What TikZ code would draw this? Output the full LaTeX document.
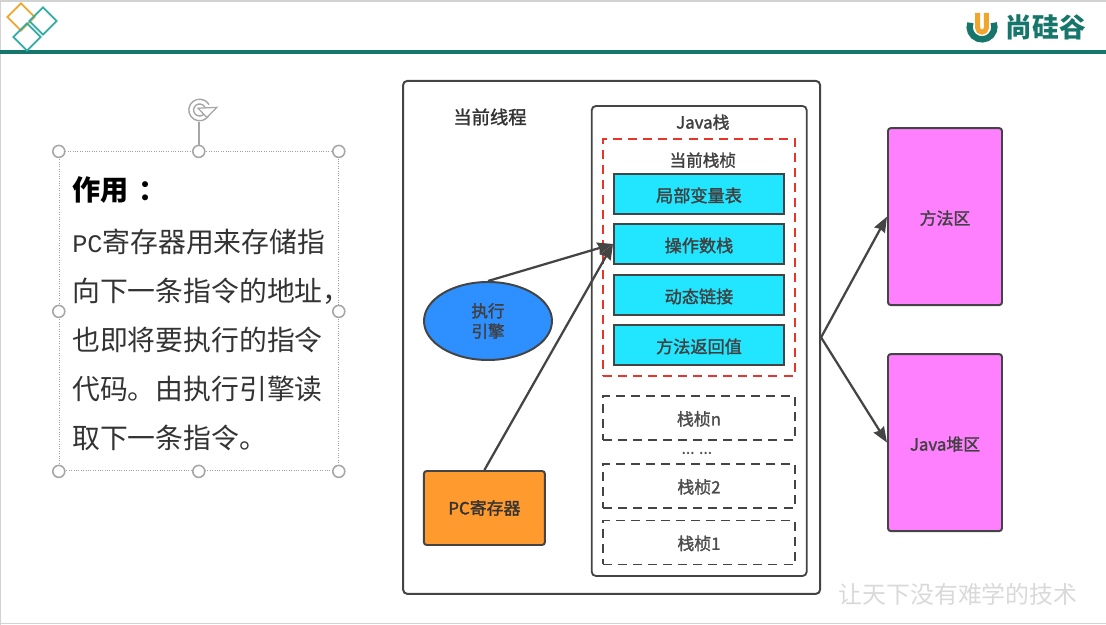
\documentclass[tikz,border=0pt]{standalone}
\usepackage{fontspec}
\usepackage{xcolor}
\usetikzlibrary{arrows.meta,shapes.geometric}
\setmainfont{Noto Sans CJK SC}
\newfontfamily\pcfont{Liberation Mono}
\newfontfamily\labelfont[FakeBold=1.6]{Noto Sans CJK SC}
\definecolor{frameline}{HTML}{444444}
\definecolor{barteal}{HTML}{17766B}
\definecolor{logoorange}{HTML}{F0A52C}
\definecolor{diamondteal}{HTML}{2FADA5}
\definecolor{framecyan}{HTML}{22E6FF}
\definecolor{enginefill}{HTML}{2E8FFF}
\definecolor{pcfill}{HTML}{FF9A2E}
\definecolor{areafill}{HTML}{FF80FF}
\definecolor{dashred}{HTML}{E8352B}
\definecolor{handlegray}{HTML}{A6A6A6}

\begin{document}
\begin{tikzpicture}[
  panel/.style={rectangle, draw=frameline, line width=1.4pt, rounded corners=3pt, fill=white},
  framebox/.style={rectangle, draw=frameline, line width=1.4pt, fill=framecyan, minimum width=4.25cm,
                   minimum height=1cm, text height=12pt, text depth=0.6pt, text=black!75,
                   font=\labelfont\fontsize{12.2}{13}\selectfont},
  idlebox/.style={rectangle, draw=frameline, line width=1.3pt, dash pattern=on 6.4pt off 4.3pt, minimum width=4.8cm,
                  minimum height=1.1cm, text height=11pt, text depth=0.6pt, text=black!70,
                  font=\labelfont\fontsize{12}{13}\selectfont},
  areabox/.style={rectangle, draw=frameline, line width=1.4pt, rounded corners=2pt, fill=areafill, minimum width=2.85cm,
                  minimum height=4.425cm, text height=12pt, text depth=0.6pt, text=black!75,
                  font=\labelfont\fontsize{12}{13}\selectfont},
  handle/.style={circle, draw=handlegray, line width=1.1pt, fill=white, minimum size=0.3cm, inner sep=0pt},
  logomark/.style={diamond, draw, line width=1.3pt, minimum size=0.7cm, inner sep=0pt},
  arr/.style={-{Stealth[length=11pt,width=8.5pt,inset=1pt]}, line width=1.6pt, color=frameline}
]
\useasboundingbox (0,0) rectangle (27.65,15.625);
\draw[gray!35, line width=1.6pt] (0,15.6) -- (27.65,15.6);
\draw[gray!35, line width=0.8pt] (0.02,0) -- (0.02,15.625);
\draw[gray!35, line width=1pt] (0,0.03) -- (27.65,0.03);

\draw[barteal, line width=2.8pt] (0,14.33) -- (27.65,14.33);
\node[logomark, draw=logoorange] (markone) at (0.525,15.2) {};
\node[logomark, draw=diamondteal] (marktwo) at (1.075,15.1) {};
\node[logomark, draw=diamondteal] (markthree) at (0.675,14.7) {};

\draw[barteal, line width=4.5pt] (24.259,15.056) arc[start angle=160, end angle=380, radius=0.31];
\draw[logoorange, line width=3.5pt] (24.44,15.3) -- (24.44,14.93) arc[start angle=180, end angle=360, radius=0.11] -- (24.66,15.3);
\node[text=barteal, font=\fontsize{19}{20}\bfseries\selectfont] (logotext) at (26.15,14.95) {尚硅谷};

\node[rectangle, draw=gray!75, densely dotted, line width=0.7pt, minimum width=6.975cm, minimum height=7.975cm] (selbox) at (4.97,7.84) {};
\coordinate (rottop) at (4.97,12.575);
\draw[handlegray, line width=1.1pt] (selbox.north) -- (rottop);
\node[handle] (hnw) at (selbox.north west) {};
\node[handle] (hn) at (selbox.north) {};
\node[handle] (hne) at (selbox.north east) {};
\node[handle] (hw) at (selbox.west) {};
\node[handle] (he) at (selbox.east) {};
\node[handle] (hsw) at (selbox.south west) {};
\node[handle] (hs) at (selbox.south) {};
\node[handle] (hse) at (selbox.south east) {};
\draw[handlegray, line width=1pt] (5.224,12.74) arc[start angle=-30, end angle=-330, radius=0.27];
\draw[handlegray, line width=1pt] (5.12,12.8) arc[start angle=-30, end angle=-330, radius=0.15];
\draw[handlegray, line width=0.9pt, fill=white] (4.95,12.92) -- (5.42,12.94) -- (5.17,12.69) -- cycle;

\node[anchor=west, inner sep=0pt, font=\fontsize{20}{24}\bfseries\selectfont] (usetitle) at (1.8,10.87) {作用\hspace{7pt}：};
\node[anchor=north west, align=left, inner sep=0pt, text=black!80, font=\fontsize{19.8}{34.9}\selectfont] (usetext) at (1.8,9.92)
  {{\pcfont\fontsize{18}{34.9}\selectfont PC}寄存器用来存储指\\
   向下一条指令的地址，\\
   也即将要执行的指令\\
   代码。由执行引擎读\\
   取下一条指令。};

\node[panel, minimum width=10.425cm, minimum height=12.825cm] (thread) at (15.29,7.19) {};
\node[text=black!80, font=\labelfont\fontsize{13}{15}\selectfont] (threadlab) at (12.25,12.7) {当前线程};

\node[panel, line width=1.3pt, minimum width=5.375cm, minimum height=11.75cm] (stack) at (17.48,7.1) {};
\node[text=black!75, font=\labelfont\fontsize{12}{13}\selectfont] (stacklab) at (17.57,12.57) {Java栈};

\node[rectangle, draw=dashred, line width=1.4pt, dash pattern=on 6.4pt off 4.3pt, minimum width=4.8cm, minimum height=5.925cm] (current) at (17.475,9.19) {};
\node[text=black!75, font=\labelfont\fontsize{11.8}{13}\selectfont] (currentlab) at (17.57,11.62) {当前栈桢};

\node[framebox] (locals) at (17.475,10.775) {局部变量表};
\node[framebox] (opstack) at (17.475,9.525) {操作数栈};
\node[framebox] (dynlink) at (17.475,8.25) {动态链接};
\node[framebox] (retaddr) at (17.475,7) {方法返回值};

\node[idlebox] (framen) at (17.475,5.175) {栈桢n};
\node[text=black!70, font=\labelfont\fontsize{11}{13}\selectfont] (framedots) at (17.42,4.3) {... ...};
\node[idlebox] (frametwo) at (17.475,3.475) {栈桢2};
\node[idlebox] (frameone) at (17.475,2.0625) {栈桢1};

\node[ellipse, draw=frameline, line width=1.4pt, fill=enginefill, minimum width=3.2cm, minimum height=1.95cm, align=center,
      inner sep=0pt, text=black!75, font=\labelfont\fontsize{11.8}{14.5}\selectfont] (engine) at (12.2,7.6) {执行\\引擎};
\node[rectangle, draw=frameline, line width=1.4pt, rounded corners=2pt, fill=pcfill, minimum width=3.025cm, minimum height=1.85cm,
      text=black!80, font=\labelfont\fontsize{12}{13}\selectfont] (pcreg) at (12.11,2.925) {PC寄存器};

\node[areabox] (method) at (23.625,10.21) {方法区};
\node[areabox] (heap) at (23.625,4.56) {Java堆区};

\draw[arr] (engine.north) -- (opstack.west);
\draw[arr] (pcreg.north) -- (opstack.west);
\draw[arr] (thread.east) -- (method.west);
\draw[arr] (thread.east) -- (heap.west);

\node[text=black!15, font=\fontsize{17}{20}\selectfont] (motto) at (23.95,0.77) {让天下没有难学的技术};
\end{tikzpicture}
\end{document}
